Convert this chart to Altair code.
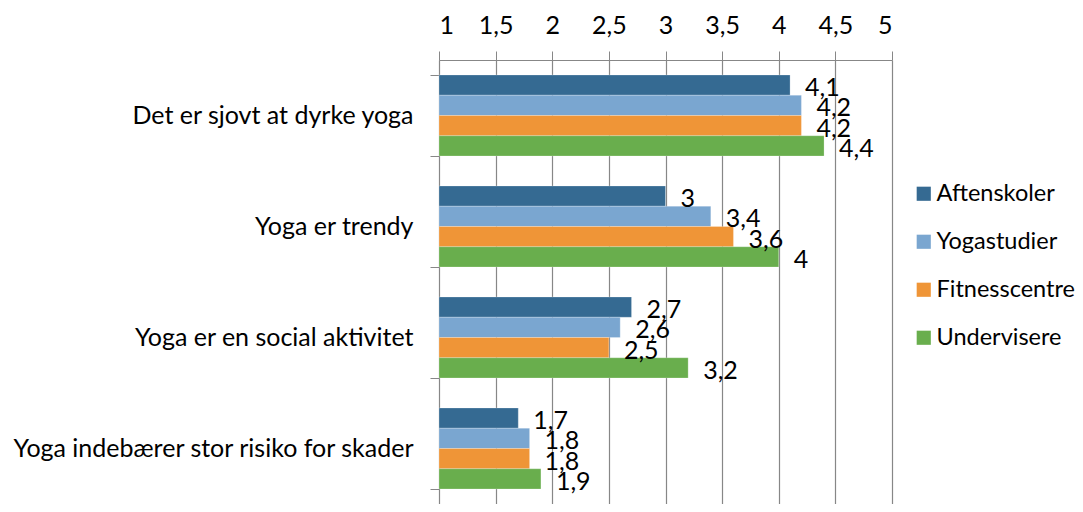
import altair as alt
import pandas as pd

categories = ["Det er sjovt at dyrke yoga", "Yoga er trendy",
              "Yoga er en social aktivitet", "Yoga indebærer stor risiko for skader"]
series = ["Aftenskoler", "Yogastudier", "Fitnesscentre", "Undervisere"]
aftenskoler = [4.1, 3.0, 2.7, 1.7]
yogastudier = [4.2, 3.4, 2.6, 1.8]
fitnesscentre = [4.2, 3.6, 2.5, 1.8]
undervisere = [4.4, 4.0, 3.2, 1.9]
colors = ["#356A92", "#7AA6D0", "#EF9537", "#69AE4D"]
x_ticks = [1, 1.5, 2, 2.5, 3, 3.5, 4, 4.5, 5]

rows = []
for s, vals in zip(series, [aftenskoler, yogastudier, fitnesscentre, undervisere]):
    for c, v in zip(categories, vals):
        rows.append({"cat": c, "series": s, "value": v})
df = pd.DataFrame(rows)

FONT = "Lato"
FS = 25
GRID = "#878787"

base = alt.Chart(df).encode(
    y=alt.Y("cat:N", sort=categories,
            scale=alt.Scale(paddingInner=0.27, paddingOuter=0.135),
            axis=alt.Axis(title=None, tickBand="extent", tickSize=9, tickColor=GRID,
                          domainColor=GRID, labelPadding=17, labelFontSize=FS,
                          labelFont=FONT, labelColor="black", labelLimit=500,
                          grid=False)),
    yOffset=alt.YOffset("series:N", sort=series,
                        scale=alt.Scale(paddingInner=0, paddingOuter=0)),
)

bars = base.mark_bar(stroke="white", strokeWidth=0.4, strokeOpacity=0.6).encode(
    x=alt.X("value:Q", scale=alt.Scale(domain=[1, 5], zero=False, nice=False),
            axis=alt.Axis(orient="top", title=None, values=x_ticks, grid=True,
                          gridColor=GRID, gridWidth=1.2, tickColor=GRID, tickSize=9,
                          domainColor=GRID, labelFontSize=FS, labelFont=FONT,
                          labelColor="black", labelPadding=13, labelOverlap=False,
                          labelExpr="replace(format(datum.value, '.1~f'), '.', ',')")),
    x2=alt.datum(1),
    color=alt.Color("series:N", sort=series,
                    scale=alt.Scale(domain=series, range=colors),
                    legend=alt.Legend(title=None, orient="none", legendX=473, legendY=122,
                                      padding=0, symbolType="square", symbolSize=200,
                                      symbolStrokeWidth=0, labelFontSize=23.5,
                                      labelFont=FONT, labelColor="black",
                                      rowPadding=23, labelOffset=1, labelLimit=200)),
)

labels = base.mark_text(align="left", baseline="middle", dx=15, dy=3,
                        font=FONT, fontSize=FS, color="black").transform_calculate(
    lbl="replace(format(datum.value, '.1~f'), '.', ',')"
).encode(
    x=alt.X("value:Q"),
    text="lbl:N",
)

chart = alt.layer(bars, labels).properties(
    width=453, height=444,
    autosize=alt.AutoSizeParams(type="none"),
    padding={"left": 431, "top": 52, "right": 183, "bottom": 0},
).configure_view(stroke=None)

chart.save("out.html", embed_options={"renderer": "svg", "actions": False})
